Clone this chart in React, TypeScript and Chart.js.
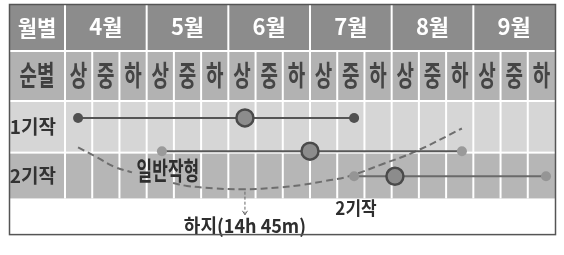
import React, { useEffect, useRef } from 'react';
import { Chart, registerables } from 'chart.js';

Chart.register(...registerables);

// ---- data (x: 순 units from 4월 상순 start, y: row units from top of 1기작 row) ----
const months = ['4월', '5월', '6월', '7월', '8월', '9월'];
const decades = ['상', '중', '하'];
const rowLabels = ['1기작', '2기작'];
const headerLabels = ['월별', '순별'];

const crop1X = [0.48, 6.61, 10.62];
const crop1Y = [0.33, 0.33, 0.33];
const crop2X = [3.56, 9.0, 14.58];
const crop2Y = [1.02, 1.02, 1.02];
const crop3X = [10.62, 12.12, 17.67];
const crop3Y = [1.54, 1.54, 1.54];

// 일반작형 curve (null = hidden under its label)
const curveX = [0.48, 1.18, 1.84, 2.46, 3.2, 3.97, 4.48, 5.44, 6.54, 7.9, 8.7, 9.55, 10.43, 11.65, 12.86, 14.58];
const curveY = [0.94, 1.15, 1.35, 1.46, null, 1.68, 1.74, 1.79, 1.81, 1.77, 1.72, 1.64, 1.54, 1.29, 1.03, 0.55];

const solsticeX = 6.61;
const notes = [
  { text: '일반작형', x: 3.78, y: 1.42, size: 17, sy: 1.5 },
  { text: '하지(14h 45m)', x: 6.61, y: 2.57, size: 18, sy: 1.05 },
  { text: '2기작', x: 10.69, y: 2.2, size: 17, sy: 1.05 },
];

const FONT = "'Noto Sans CJK KR', 'Noto Sans', sans-serif";
const C_HEAD1 = '#8c8c8c';
const C_HEAD2 = '#b2b2b2';
const C_ROW1 = '#d6d6d6';
const C_ROW2 = '#b6b6b6';
const ROW_EDGES = [0, 1.05, 2.0];

const pts = (xs: number[], ys: (number | null)[]) => xs.map((x, i) => ({ x, y: ys[i] }));

function tallText(ctx: any, text: string, x: number, y: number, size: number, sy: number, color: string) {
  ctx.save();
  ctx.translate(x, y);
  ctx.scale(1, sy);
  ctx.font = `bold ${size}px ${FONT}`;
  ctx.fillStyle = color;
  ctx.textAlign = 'center';
  ctx.textBaseline = 'middle';
  ctx.fillText(text, 0, 0);
  ctx.restore();
}

const tablePlugin = {
  id: 'tablePlugin',
  beforeDraw(chart: any) {
    const { ctx, chartArea } = chart;
    const x = chart.scales.x;
    const xm = chart.scales.xm;
    const y = chart.scales.y;
    const L = chart.scales.y.left;
    const R = chartArea.right;
    ctx.save();
    ctx.fillStyle = '#ffffff';
    ctx.fillRect(0, 0, chart.width, chart.height);
    ctx.fillStyle = C_HEAD1;
    ctx.fillRect(L, xm.top, R - L, xm.bottom - xm.top - 1);
    ctx.fillStyle = C_HEAD2;
    ctx.fillRect(L, x.top + 1, R - L, x.bottom - x.top - 3);
    const r1t = y.getPixelForValue(ROW_EDGES[0]);
    const r1b = y.getPixelForValue(ROW_EDGES[1]);
    const r2b = y.getPixelForValue(ROW_EDGES[2]);
    ctx.fillStyle = C_ROW1;
    ctx.fillRect(L, r1t, R - L, r1b - r1t - 1);
    ctx.fillStyle = C_ROW2;
    ctx.fillRect(L, r1b + 1, R - L, r2b - r1b - 1);
    ctx.strokeStyle = '#ffffff';
    ctx.lineWidth = 2;
    for (let k = 0; k < 18; k++) {
      const px = x.getPixelForValue(k);
      ctx.beginPath();
      ctx.moveTo(px, x.top);
      ctx.lineTo(px, r2b);
      ctx.stroke();
      if (k % 3 === 0) {
        ctx.beginPath();
        ctx.moveTo(px, xm.top);
        ctx.lineTo(px, xm.bottom);
        ctx.stroke();
      }
    }
    ctx.restore();
    // header labels
    const cx = (L + chartArea.left) / 2;
    tallText(ctx, headerLabels[0], cx, (xm.top + xm.bottom - 1) / 2, 21, 1.05, '#ffffff');
    const dy = (x.top + x.bottom - 2) / 2;
    tallText(ctx, headerLabels[1], cx, dy, 19, 1.5, '#404040');
    for (let k = 0; k < 18; k++) {
      tallText(ctx, decades[k % 3], x.getPixelForValue(k + 0.5), dy, 19, 1.5, '#454545');
    }
  },
  afterDatasetsDraw(chart: any) {
    const { ctx } = chart;
    const x = chart.scales.x;
    const y = chart.scales.y;
    notes.forEach((n) => {
      tallText(ctx, n.text, x.getPixelForValue(n.x), y.getPixelForValue(n.y), n.size, n.sy, '#2e2e2e');
    });
    ctx.save();
    const ax = x.getPixelForValue(solsticeX);
    const ay0 = y.getPixelForValue(1.86);
    const ay1 = y.getPixelForValue(2.34);
    ctx.strokeStyle = '#666666';
    ctx.lineWidth = 1;
    ctx.setLineDash([3, 2]);
    ctx.beginPath();
    ctx.moveTo(ax, ay0);
    ctx.lineTo(ax, ay1);
    ctx.stroke();
    ctx.setLineDash([]);
    ctx.beginPath();
    ctx.moveTo(ax - 2.5, ay1 - 4);
    ctx.lineTo(ax, ay1);
    ctx.lineTo(ax + 2.5, ay1 - 4);
    ctx.stroke();
    ctx.restore();
  },
  afterDraw(chart: any) {
    const { ctx, chartArea } = chart;
    const xm = chart.scales.xm;
    const L = chart.scales.y.left;
    ctx.save();
    ctx.strokeStyle = '#555555';
    ctx.lineWidth = 1.5;
    ctx.strokeRect(L + 0.5, xm.top - 0.5, chartArea.right - L, chartArea.bottom - xm.top + 0.5);
    ctx.restore();
  },
};

const bigR = 8.5;
const smallR = 5;

export default function App() {
  const ref = useRef<HTMLCanvasElement | null>(null);
  useEffect(() => {
    if (!ref.current) return;
    const chart = new Chart(ref.current, {
      type: 'line',
      data: {
        datasets: [
          {
            label: '1기작',
            data: pts(crop1X, crop1Y),
            borderColor: '#555555',
            borderWidth: 2,
            pointRadius: [smallR, bigR, smallR],
            pointBackgroundColor: ['#505050', '#8c8c8c', '#505050'],
            pointBorderColor: ['#505050', '#4a4a4a', '#505050'],
            pointBorderWidth: [0, 2.5, 0],
            order: 0,
          },
          {
            label: '1기작 만기',
            data: pts(crop2X, crop2Y),
            borderColor: '#585858',
            borderWidth: 2,
            pointRadius: [smallR, bigR, smallR],
            pointBackgroundColor: ['#9a9a9a', '#8c8c8c', '#9a9a9a'],
            pointBorderColor: ['#9a9a9a', '#4a4a4a', '#9a9a9a'],
            pointBorderWidth: [0, 2.5, 0],
            order: 0,
          },
          {
            label: '2기작',
            data: pts(crop3X, crop3Y),
            borderColor: '#6a6a6a',
            borderWidth: 2,
            pointRadius: [smallR, bigR, smallR],
            pointBackgroundColor: ['#959595', '#8c8c8c', '#959595'],
            pointBorderColor: ['#959595', '#4a4a4a', '#959595'],
            pointBorderWidth: [0, 2.5, 0],
            order: 0,
          },
          {
            label: '일반작형',
            data: pts(curveX, curveY),
            borderColor: '#6e6e6e',
            borderWidth: 2,
            borderDash: [7, 4],
            pointRadius: 0,
            tension: 0.4,
            spanGaps: false,
            order: 1,
          },
        ],
      },
      options: {
        animation: false,
        responsive: false,
        devicePixelRatio: 1,
        layout: { padding: { left: 9, right: 9, top: 5, bottom: 12 } },
        plugins: { legend: { display: false }, tooltip: { enabled: false } },
        scales: {
          x: {
            type: 'linear',
            position: 'top',
            min: 0,
            max: 18,
            weight: 0,
            afterFit: (s: any) => {
              s.height = 51;
            },
            ticks: { display: false },
            grid: { display: false, drawTicks: false },
            border: { display: false },
          },
          xm: {
            type: 'linear',
            position: 'top',
            min: 0,
            max: 18,
            weight: 1,
            afterBuildTicks: (s: any) => {
              s.ticks = months.map((_m: string, i: number) => ({ value: i * 3 + 1.5 }));
            },
            afterFit: (s: any) => {
              s.height = 46;
            },
            ticks: {
              autoSkip: false,
              maxRotation: 0,
              minRotation: 0,
              padding: 11,
              color: '#ffffff',
              font: { family: FONT, size: 22, weight: 'bold' },
              callback: (_v: any, i: number) => months[i],
            },
            grid: { display: false, drawTicks: false },
            border: { display: false },
          },
          y: {
            type: 'linear',
            position: 'left',
            min: 0,
            max: 2.75,
            reverse: true,
            afterBuildTicks: (s: any) => {
              s.ticks = [{ value: 0.52 }, { value: 1.54 }];
            },
            afterFit: (s: any) => {
              s.width = 56;
            },
            ticks: {
              padding: 9,
              color: '#333333',
              font: { family: FONT, size: 19, weight: 'bold' },
              callback: (_v: any, i: number) => rowLabels[i],
            },
            grid: { display: false, drawTicks: false },
            border: { display: false },
          },
        },
      },
      plugins: [tablePlugin],
    } as any);
    return () => chart.destroy();
  }, []);
  return (
    <div style={{ position: 'fixed', left: 0, top: 0, width: 564, height: 255, background: '#fff' }}>
      <canvas ref={ref} width={564} height={255} />
    </div>
  );
}
